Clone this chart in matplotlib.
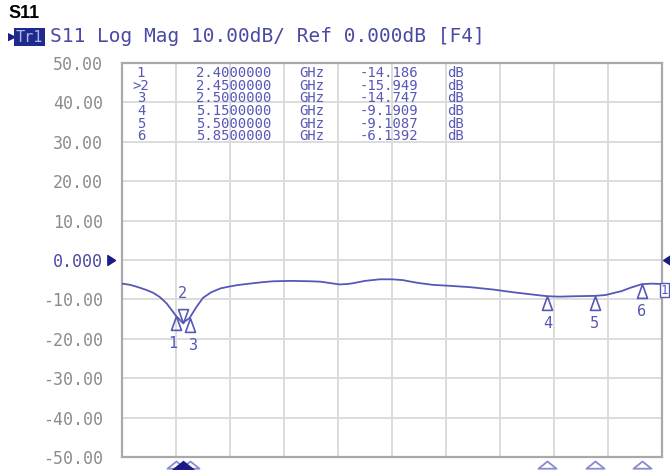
import matplotlib
matplotlib.use("Agg")
import matplotlib.pyplot as plt
from matplotlib.path import Path
from matplotlib.transforms import blended_transform_factory

# ---- data -------------------------------------------------------------
freq_ghz = [2.00, 2.06, 2.12, 2.18, 2.23, 2.28, 2.33, 2.37, 2.40, 2.45,
            2.50, 2.55, 2.60, 2.66, 2.73, 2.80, 2.85, 2.92, 2.97, 3.05,
            3.12, 3.25, 3.40, 3.47, 3.55, 3.61, 3.67, 3.71, 3.80, 3.91,
            4.00, 4.08, 4.14, 4.19, 4.30, 4.45, 4.58, 4.75, 4.90, 5.05,
            5.15, 5.24, 5.35, 5.50, 5.58, 5.64, 5.70, 5.77, 5.85, 5.92,
            6.00]
s11_db = [-6.0, -6.3, -6.9, -7.6, -8.3, -9.4, -11.0, -12.8, -14.186, -15.949,
          -14.747, -12.0, -9.6, -8.2, -7.2, -6.7, -6.4, -6.1, -5.9, -5.6,
          -5.4, -5.3, -5.4, -5.5, -5.9, -6.2, -6.1, -5.9, -5.3, -4.9,
          -4.9, -5.1, -5.5, -5.8, -6.3, -6.6, -6.9, -7.5, -8.2, -8.8,
          -9.1909, -9.3, -9.2, -9.1087, -8.9, -8.4, -7.9, -7.0, -6.1392, -6.0,
          -6.1]

marker_ids = ["1", "2", "3", "4", "5", "6"]
marker_freq = [2.40, 2.45, 2.50, 5.15, 5.50, 5.85]
marker_db = [-14.186, -15.949, -14.747, -9.1909, -9.1087, -6.1392]
marker_freq_text = ["2.4000000", "2.4500000", "2.5000000",
                    "5.1500000", "5.5000000", "5.8500000"]
marker_db_text = ["-14.186", "-15.949", "-14.747", "-9.1909", "-9.1087", "-6.1392"]
active_marker = "2"

y_ticks = [50, 40, 30, 20, 10, 0, -10, -20, -30, -40, -50]
y_tick_labels = ["50.00", "40.00", "30.00", "20.00", "10.00", "0.000",
                 "-10.00", "-20.00", "-30.00", "-40.00", "-50.00"]
x_start, x_stop = 2.0, 6.0

# ---- style ------------------------------------------------------------
W, H = 670, 470
TRACE = "#5757b8"
TEXT_BLUE = "#4a4aa6"
NAVY = "#1b1b86"
GRID = "#dcdcdc"
MONO = "DejaVu Sans Mono"

fig = plt.figure(figsize=(W / 100, H / 100), dpi=100)
fig.patch.set_facecolor("white")


def fx(px):
    return px / W


def fy(py):
    return 1 - py / H


ax = fig.add_axes([fx(122), fy(457), (662 - 122) / W, (457 - 63) / H])
ax.set_xlim(x_start, x_stop)
ax.set_ylim(-50, 50)

# grid: 10 horizontal and 10 vertical divisions
ax.set_xticks([x_start + i * (x_stop - x_start) / 10 for i in range(11)])
ax.set_xticklabels([])
ax.set_yticks(y_ticks)
ax.set_yticklabels(y_tick_labels, fontfamily=MONO, fontsize=12, color="#8c8c8c")
ax.tick_params(length=0, pad=13.5)
for lbl in ax.get_yticklabels():
    if lbl.get_text() == "0.000":
        lbl.set_color(TEXT_BLUE)
ax.grid(True, color=GRID, linewidth=1.4)
ax.set_axisbelow(True)
for side in ax.spines.values():
    side.set_color("#a9a9a9")
    side.set_linewidth(1.6)

# trace
ax.plot(freq_ghz, s11_db, color=TRACE, linewidth=1.3, zorder=3)

# marker symbols on the trace
tri_up = Path([(0, 0), (-0.36, -1), (0.36, -1), (0, 0)],
              [Path.MOVETO, Path.LINETO, Path.LINETO, Path.CLOSEPOLY])
tri_down = Path([(0, 0), (-0.36, 1), (0.36, 1), (0, 0)],
                [Path.MOVETO, Path.LINETO, Path.LINETO, Path.CLOSEPOLY])
for mid, f, v in zip(marker_ids, marker_freq, marker_db):
    if mid == active_marker:
        ax.plot([f], [v], marker=tri_down, markersize=20, markerfacecolor="none",
                markeredgecolor=TRACE, markeredgewidth=1.2, zorder=4)
        ax.annotate(mid, (f, v), xytext=(0, 21), textcoords="offset points",
                    ha="center", va="center", fontfamily=MONO, fontsize=11,
                    color=TRACE)
    else:
        ax.plot([f], [v], marker=tri_up, markersize=20, markerfacecolor="none",
                markeredgecolor=TRACE, markeredgewidth=1.2, zorder=4)
        dx = {"1": -2, "3": 3}.get(mid, 0)
        ax.annotate(mid, (f, v), xytext=(dx, -20), textcoords="offset points",
                    ha="center", va="center", fontfamily=MONO, fontsize=11,
                    color=TRACE)

# marker flags under the bottom edge of the grid
bottom_tri = Path([(0, 0), (-1, -0.8), (1, -0.8), (0, 0)],
                  [Path.MOVETO, Path.LINETO, Path.LINETO, Path.CLOSEPOLY])
xdata_yaxes = ax.get_xaxis_transform()
for mid, f in zip(marker_ids, marker_freq):
    if mid == active_marker:
        continue
    ax.plot([f], [-0.011], marker=bottom_tri, markersize=13,
            markerfacecolor="white", markeredgecolor="#8a8ad0",
            markeredgewidth=1.3, transform=xdata_yaxes, clip_on=False, zorder=5)
f_act = marker_freq[marker_ids.index(active_marker)]
ax.plot([f_act], [-0.011], marker=bottom_tri, markersize=15,
        markerfacecolor=NAVY, markeredgecolor=NAVY, transform=xdata_yaxes,
        clip_on=False, zorder=6)

# reference level pointers (left and right of the grid)
yaxes_ydata = blended_transform_factory(ax.transAxes, ax.transData)
ref_right = Path([(0, 0), (-1, 0.65), (-1, -0.65), (0, 0)],
                 [Path.MOVETO, Path.LINETO, Path.LINETO, Path.CLOSEPOLY])
ref_left = Path([(0, 0), (1, 0.65), (1, -0.65), (0, 0)],
                [Path.MOVETO, Path.LINETO, Path.LINETO, Path.CLOSEPOLY])
ax.plot([-0.013], [0], marker=ref_right, markersize=11, color=NAVY,
        transform=yaxes_ydata, clip_on=False)
ax.plot([1.002], [0], marker=ref_left, markersize=11, color=NAVY,
        transform=yaxes_ydata, clip_on=False)

# trace number tag at the right end
ax.text(0.998, s11_db[-1] - 1.6, "1", transform=yaxes_ydata, ha="left",
        va="center", fontfamily=MONO, fontsize=9, color=TRACE,
        bbox=dict(boxstyle="square,pad=0.05", facecolor="white",
                  edgecolor=TRACE, linewidth=1.0), clip_on=False, zorder=6)

# marker readout table: one multi-line text per column, centred on the column
tags = [(">" + m) if m == active_marker else m for m in marker_ids]
columns = [
    (141, tags),
    (234, marker_freq_text),
    (312, ["GHz"] * len(marker_ids)),
    (389, marker_db_text),
    (456, ["dB"] * len(marker_ids)),
]
for cx, lines in columns:
    fig.text(fx(cx), fy(66), "\n".join(lines), ha="center", va="top",
             multialignment="center", linespacing=0.88, fontfamily=MONO,
             fontsize=10, color=TRACE)

# header
fig.text(fx(8), fy(13), "S11", ha="left", va="center", fontfamily="Liberation Sans",
         fontweight="bold", fontsize=13, color="black")
fig.text(fx(8), fy(37), "\u25B6", ha="left", va="center", fontfamily="DejaVu Sans",
         fontsize=8, color=NAVY)
fig.text(fx(16), fy(37), "Tr1", ha="left", va="center", fontfamily=MONO,
         fontsize=11, color="#a9b8ea",
         bbox=dict(boxstyle="square,pad=0.12", facecolor="#1f2a8c", edgecolor="none"))
fig.text(fx(50), fy(37), "S11 Log Mag 10.00dB/ Ref 0.000dB [F4]", ha="left",
         va="center", fontfamily=MONO, fontsize=14, color=TEXT_BLUE)

fig.savefig("out.png", dpi=100, facecolor="white")
